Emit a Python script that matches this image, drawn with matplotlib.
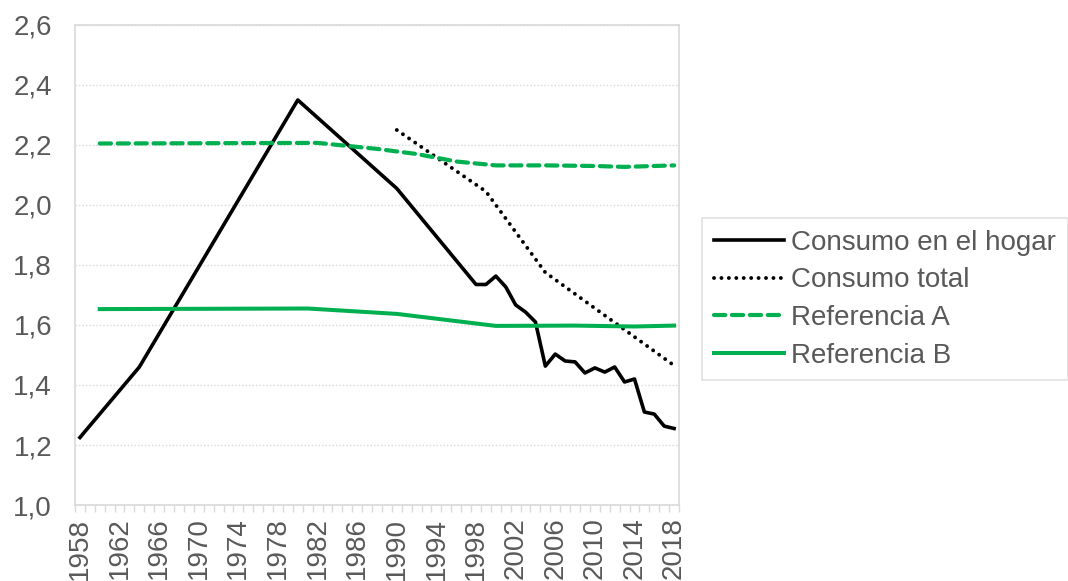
import matplotlib.pyplot as plt
import numpy as np
from matplotlib.ticker import FuncFormatter

plt.rcParams['font.family'] = ['Liberation Sans', 'DejaVu Sans']

# Consumo en el hogar
hogar_years = [1958, 1964, 1980, 1990, 1998, 1999, 2000, 2001, 2002, 2003, 2004,
               2005, 2006, 2007, 2008, 2009, 2010, 2011, 2012, 2013, 2014,
               2015, 2016, 2017, 2018]
hogar_vals = [1.225, 1.46, 2.35, 2.055, 1.735, 1.735, 1.763, 1.727, 1.667, 1.643, 1.61,
              1.463, 1.503, 1.48, 1.477, 1.44, 1.457, 1.443, 1.46, 1.41, 1.42,
              1.31, 1.303, 1.263, 1.255]

# Consumo total
total_years = [1990, 1999, 2005, 2018]
total_vals = [2.25, 2.045, 1.775, 1.465]

# Referencia A
ref_a_years = [1960, 1982, 1988, 1992, 1996, 2000, 2005, 2010, 2013, 2018]
ref_a_vals = [2.205, 2.207, 2.187, 2.17, 2.145, 2.132, 2.132, 2.13, 2.127, 2.132]

# Referencia B
ref_b_years = [1960, 1981, 1990, 2000, 2008, 2014, 2018]
ref_b_vals = [1.653, 1.655, 1.637, 1.597, 1.598, 1.595, 1.598]

label_years = list(range(1958, 2019, 4))

grey = '#595959'
green = '#00B050'
border = '#D9D9D9'

fig = plt.figure(figsize=(10.68, 5.81), dpi=100)
ax = fig.add_axes([0.0702, 0.1308, 0.5656, 0.8262])

ax.plot(hogar_years, hogar_vals, color='black', lw=2.6, label='Consumo en el hogar',
        solid_joinstyle='round')
ax.plot(total_years, total_vals, color='black', lw=2.8, linestyle=(0, (0.01, 1.9)),
        dash_capstyle='round', label='Consumo total')
ax.plot(ref_a_years, ref_a_vals, color=green, lw=3.0, linestyle=(0, (2.7, 1.6)),
        dash_capstyle='round', label='Referencia A')
ax.plot(ref_b_years, ref_b_vals, color=green, lw=2.9, label='Referencia B')

ax.set_xlim(1957.5, 2018.5)
ax.set_ylim(1.0, 2.6)
ax.set_yticks(np.arange(1.0, 2.61, 0.2))
ax.yaxis.set_major_formatter(FuncFormatter(lambda v, p: f'{v:.1f}'.replace('.', ',')))
ax.set_xticks(label_years)
ax.set_xticklabels([str(y) for y in label_years], rotation=90)
ax.set_xticks(np.arange(1957.5, 2019, 1), minor=True)

ax.tick_params(axis='y', length=0, labelsize=20, labelcolor=grey, pad=16.5)
ax.tick_params(axis='x', which='major', length=0, labelsize=20, labelcolor=grey, pad=9)
ax.tick_params(axis='x', which='minor', length=5, color=border, width=1)

ax.grid(axis='y', color=border, linestyle=(0, (1, 1.5)), lw=1)
for s in ax.spines.values():
    s.set_color(border)
    s.set_linewidth(1.2)

leg = ax.legend(loc='upper left', bbox_to_anchor=(1.038, 0.598), fontsize=20,
                frameon=True, fancybox=False, handlelength=2.55, handletextpad=0.25,
                borderpad=0.42, labelspacing=0.42, borderaxespad=0)
leg.get_frame().set_edgecolor(border)
leg.get_frame().set_linewidth(1.2)
for t in leg.get_texts():
    t.set_color(grey)

plt.savefig('out.png')
plt.close()
